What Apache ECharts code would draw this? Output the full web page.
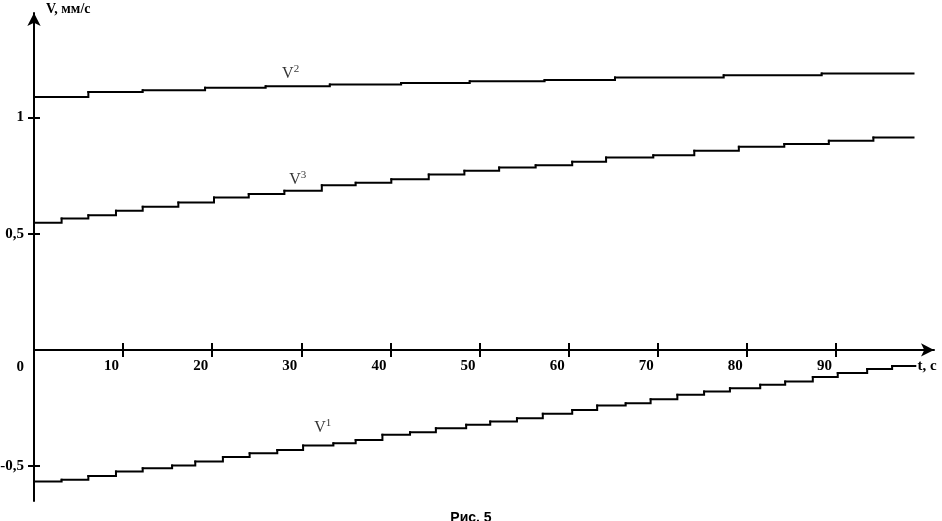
<!DOCTYPE html>
<html>
<head>
<meta charset="utf-8">
<script src="https://cdn.jsdelivr.net/npm/echarts@6/dist/echarts.min.js"></script>
<style>
html,body{margin:0;padding:0;background:#fff;}
#chart{width:942px;height:521px;}
</style>
</head>
<body>
<div id="chart"></div>
<script>
// Step start times (s) and velocity levels (mm/s); last entry marks the end of the final step
var v1T = [0, 3.1, 6.1, 9.2, 12.2, 15.5, 18.1, 21.2, 24.2, 27.3, 30.2, 33.6, 36.1, 39.1, 42.2, 45.1, 48.5, 51.2, 54.2, 57.1, 60.4, 63.2, 66.4, 69.2, 72.2, 75.2, 78.1, 81.5, 84.3, 87.4, 90.2, 93.5, 96.3, 98.9];
var v1V = [-0.566, -0.559, -0.542, -0.523, -0.509, -0.497, -0.480, -0.461, -0.444, -0.430, -0.411, -0.401, -0.387, -0.365, -0.354, -0.337, -0.322, -0.308, -0.294, -0.275, -0.258, -0.239, -0.229, -0.212, -0.193, -0.179, -0.165, -0.150, -0.136, -0.116, -0.099, -0.082, -0.069, -0.069];

var v2T = [0, 6.1, 12.2, 19.2, 26.0, 33.2, 41.2, 48.9, 57.3, 65.2, 77.4, 88.4, 98.7];
var v2V = [1.088, 1.110, 1.118, 1.128, 1.135, 1.142, 1.149, 1.156, 1.162, 1.172, 1.182, 1.190, 1.190];

var v3T = [0, 3.1, 6.1, 9.2, 12.2, 16.2, 20.2, 24.1, 28.1, 32.3, 36.1, 40.1, 44.3, 48.3, 52.2, 56.3, 60.4, 64.2, 69.5, 74.1, 79.1, 84.2, 89.2, 94.2, 98.7];
var v3V = [0.547, 0.566, 0.580, 0.599, 0.616, 0.634, 0.656, 0.671, 0.685, 0.709, 0.719, 0.735, 0.755, 0.771, 0.785, 0.795, 0.810, 0.828, 0.838, 0.857, 0.874, 0.886, 0.900, 0.914, 0.914];

var xTicks = [10, 20, 30, 40, 50, 60, 70, 80, 90];
var yTicks = [-0.5, 0.5, 1];
var yLabels = [-0.5, 0, 0.5, 1];

// series label anchors: t, v, superscript
var labT = [32.4, 28.8, 29.6];
var labV = [-0.335, 1.19, 0.731];
var labSup = ['1', '2', '3'];

var Y_MIN = -0.65, Y_MAX = 1.45;
var GRID = {left: 34, right: 8, top: 13, bottom: 20};
var CHART_H = 521;
// offset to move the bottom x axis up to v = 0
var zeroOffset = -((CHART_H - GRID.bottom - GRID.top) * (0 - Y_MIN) / (Y_MAX - Y_MIN));

// build step segments: [t_i, v_i, t_{i+1}, v_{i+1}]
function segs(T, V){
  var out = [];
  for (var i = 0; i < T.length - 1; i++) out.push([T[i], V[i], T[i + 1], V[i + 1]]);
  return out;
}

function renderStep(params, api){
  var t0 = api.value(0), v0 = api.value(1), t1 = api.value(2), v1 = api.value(3);
  var p0 = api.coord([t0, v0]);
  var p1 = api.coord([t1, v0]);
  var p2 = api.coord([t1, v1]);
  return {
    type: 'polyline',
    shape: {points: [p0, p1, p2]},
    style: {stroke: '#000', lineWidth: 2, fill: null, lineCap: 'square', lineJoin: 'miter'},
    silent: true
  };
}

function mkSeries(name, T, V){
  return {
    name: name, type: 'custom', renderItem: renderStep,
    xAxisIndex: 0, yAxisIndex: 0,
    encode: {x: [0, 2], y: [1, 3]},
    data: segs(T, V), clip: false
  };
}

var serifBold = {fontFamily: 'Liberation Serif', fontWeight: 'bold', fontSize: 15, color: '#000'};

var chart = echarts.init(document.getElementById('chart'));
chart.setOption({
  animation: false,
  backgroundColor: '#fff',
  title: {
    text: 'Рис. 5', left: 'center', top: 506,
    textStyle: {fontFamily: 'Liberation Sans', fontWeight: 'bold', fontSize: 14, color: '#000'}
  },
  grid: {left: GRID.left, right: GRID.right, top: GRID.top, bottom: GRID.bottom, containLabel: false, outerBoundsMode: 'none'},
  xAxis: [{
    type: 'value', min: 0, max: 101, position: 'bottom', offset: zeroOffset,
    name: 't, c', nameLocation: 'end', nameGap: -7,
    nameTextStyle: {fontFamily: 'Liberation Serif', fontWeight: 'bold', fontSize: 15, color: '#000', align: 'center', verticalAlign: 'top', padding: [9, 0, 0, 0]},
    axisLine: {show: true, onZero: false, symbol: ['none', 'arrow'], symbolSize: [10, 13], lineStyle: {color: '#000', width: 2}},
    axisTick: {show: true, customValues: xTicks, length: 7, lineStyle: {color: '#000', width: 2}},
    axisLabel: Object.assign({show: true, customValues: xTicks, align: 'right', padding: [0, 4, 0, 0], margin: 9}, serifBold),
    splitLine: {show: false}
  }, {
    type: 'value', min: 0, max: 101, position: 'bottom', offset: zeroOffset,
    axisLine: {show: false, onZero: false},
    axisTick: {show: true, inside: true, customValues: xTicks, length: 7, lineStyle: {color: '#000', width: 2}},
    axisLabel: {show: false},
    splitLine: {show: false}
  }],
  yAxis: [{
    type: 'value', min: Y_MIN, max: Y_MAX,
    name: 'V, мм/с', nameLocation: 'end', nameGap: 4,
    nameTextStyle: {fontFamily: 'Liberation Serif', fontWeight: 'bold', fontSize: 14, color: '#000', align: 'left', verticalAlign: 'middle', padding: [0, 0, 0, 12]},
    axisLine: {show: true, onZero: false, symbol: ['none', 'arrow'], symbolSize: [10, 13], lineStyle: {color: '#000', width: 2}},
    axisTick: {show: true, customValues: yTicks, length: 6, lineStyle: {color: '#000', width: 2}},
    axisLabel: Object.assign({
      show: true, customValues: yLabels, margin: 10,
      formatter: function(v){ return v === 0 ? '{z|0}' : String(v).replace('.', ','); },
      rich: {z: {fontFamily: 'Liberation Serif', fontWeight: 'bold', fontSize: 15, color: '#000', padding: [34, 0, 0, 0]}}
    }, serifBold),
    splitLine: {show: false}
  }, {
    type: 'value', min: Y_MIN, max: Y_MAX, position: 'left',
    axisLine: {show: false, onZero: false},
    axisTick: {show: true, inside: true, customValues: yTicks, length: 6, lineStyle: {color: '#000', width: 2}},
    axisLabel: {show: false},
    splitLine: {show: false}
  }],
  series: [
    mkSeries('V1', v1T, v1V),
    mkSeries('V2', v2T, v2V),
    mkSeries('V3', v3T, v3V),
    {
      name: 'labels', type: 'scatter', xAxisIndex: 0, yAxisIndex: 0,
      symbolSize: 0, silent: true,
      data: labT.map(function(t, i){ return [t, labV[i], labSup[i]]; }),
      label: {
        show: true, position: 'inside', color: '#000',
        formatter: function(p){ return 'V{s|' + p.value[2] + '}'; },
        fontFamily: 'Liberation Serif', fontSize: 16,
        rich: {s: {fontFamily: 'Liberation Serif', fontSize: 11, color: '#000', padding: [0, 0, 9, 0]}}
      }
    }
  ]
});
</script>
</body>
</html>
